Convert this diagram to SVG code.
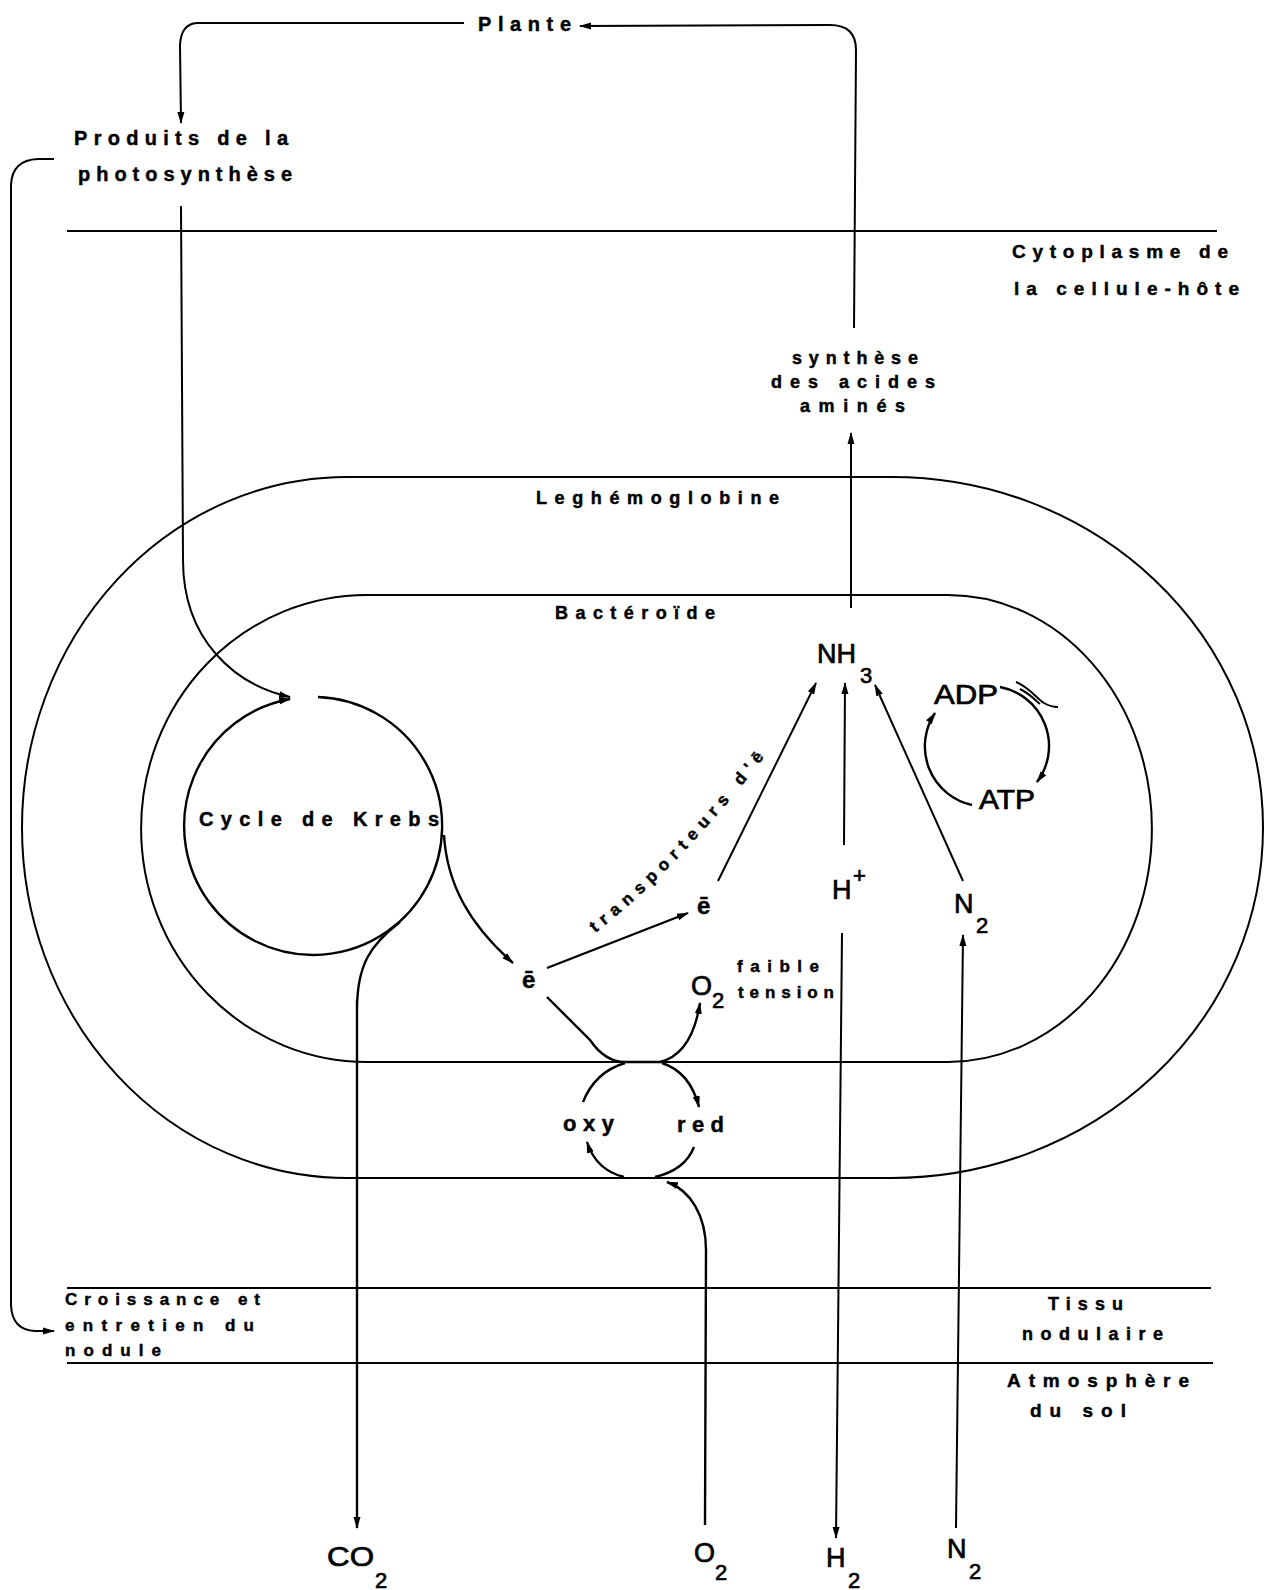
<svg xmlns="http://www.w3.org/2000/svg" width="1269" height="1590" viewBox="0 0 1269 1590">
<defs>
<style>
text{font-family:"Liberation Sans",Arial,sans-serif;fill:#000}
.b{font-weight:bold;stroke:#000;stroke-width:0.45}
.ln{fill:none;stroke:#000;stroke-width:2}
.th{fill:none;stroke:#000;stroke-width:2.4}
.ar{marker-end:url(#ah)}
.big{font-size:27px;stroke:#000;stroke-width:0.7}
.sub{font-size:22px;stroke:#000;stroke-width:0.7}
</style>
<marker id="ah" viewBox="0 0 12 8" refX="11" refY="4" markerWidth="12" markerHeight="8" markerUnits="userSpaceOnUse" orient="auto">
<path d="M0,0.5 L12,4 L0,7.5 Z" fill="#000"/>
</marker>
</defs>
<rect width="1269" height="1590" fill="#fff"/>

<g id="zones">
<line class="ln" x1="67" y1="231" x2="1217" y2="231"/>
<line class="ln" x1="67" y1="1288" x2="1211" y2="1288"/>
<line class="ln" x1="67" y1="1363" x2="1213" y2="1363"/>
</g>

<g id="leghemoglobine">
<path class="ln" d="M347,477 L892,477 A371,350.5 0 0 1 892,1178 L347,1178 A325,350.5 0 0 1 347,477 Z"/>
<text class="b" x="536" y="504" font-size="18" textLength="243" lengthAdjust="spacing">Leghémoglobine</text>
</g>

<g id="bacteroide">
<path class="ln" d="M367,595 L948,595 A204,233.5 0 0 1 948,1062 L367,1062 A226,233.5 0 0 1 367,595 Z"/>
<text class="b" x="555" y="619" font-size="18" textLength="160" lengthAdjust="spacing">Bactéroïde</text>
</g>

<g id="krebs">
<path class="th ar" d="M318,697 A129,129 0 1 1 290,699"/>
<text class="b" x="199" y="826" font-size="20" textLength="240" lengthAdjust="spacing">Cycle de Krebs</text>
</g>

<g id="plante"><text class="b" x="478" y="31" font-size="20" textLength="93" lengthAdjust="spacing">Plante</text></g>

<g id="produits">
<text class="b" x="74" y="145" font-size="20" textLength="214" lengthAdjust="spacing">Produits de la</text>
<text class="b" x="78" y="181" font-size="20" textLength="214" lengthAdjust="spacing">photosynthèse</text>
</g>

<g id="cytoplasme">
<text class="b" x="1012" y="258" font-size="19" textLength="216" lengthAdjust="spacing">Cytoplasme de</text>
<text class="b" x="1014" y="295" font-size="19" textLength="225" lengthAdjust="spacing">la cellule-hôte</text>
</g>

<g id="synthese">
<text class="b" x="792" y="364" font-size="18" textLength="126" lengthAdjust="spacing">synthèse</text>
<text class="b" x="771" y="388" font-size="18" textLength="164" lengthAdjust="spacing">des acides</text>
<text class="b" x="800" y="412" font-size="18" textLength="105" lengthAdjust="spacing">aminés</text>
</g>

<g id="nh3"><text class="big" x="817" y="663">NH<tspan class="sub" x="860" y="683">3</tspan></text></g>
<g id="adp"><text class="big" x="934" y="704" textLength="64" lengthAdjust="spacingAndGlyphs">ADP</text></g>
<g id="atp"><text class="big" x="979" y="809" textLength="56" lengthAdjust="spacingAndGlyphs">ATP</text></g>
<g id="hplus"><text class="big" x="832" y="899">H<tspan class="sub" x="853" y="883">+</tspan></text></g>
<g id="n2"><text class="big" x="954" y="913">N<tspan class="sub" x="976" y="933">2</tspan></text></g>
<g id="e1"><text class="b" x="522" y="988" font-size="24">ē</text></g>
<g id="e2"><text class="b" x="697" y="914" font-size="24">ē</text></g>
<g id="transporteurs">
<path id="tp" d="M595,933 Q682,866 776,742" fill="none"/>
<text class="b" font-size="17"><textPath href="#tp" textLength="245" lengthAdjust="spacing">transporteurs d'ē</textPath></text>
</g>
<g id="o2faible">
<text class="big" x="691" y="995">O<tspan class="sub" x="712" y="1008">2</tspan></text>
<text class="b" x="737" y="972" font-size="17" textLength="82" lengthAdjust="spacing">faible</text>
<text class="b" x="738" y="998" font-size="17" textLength="96" lengthAdjust="spacing">tension</text>
</g>
<g id="oxy"><text class="b" x="563" y="1131" font-size="22" textLength="51" lengthAdjust="spacing">oxy</text></g>
<g id="red"><text class="b" x="677" y="1132" font-size="22" textLength="47" lengthAdjust="spacing">red</text></g>

<g id="croissance">
<text class="b" x="65" y="1305" font-size="17" textLength="195" lengthAdjust="spacing">Croissance et</text>
<text class="b" x="65" y="1331" font-size="17" textLength="189" lengthAdjust="spacing">entretien du</text>
<text class="b" x="65" y="1356" font-size="17" textLength="96" lengthAdjust="spacing">nodule</text>
</g>
<g id="tissu">
<text class="b" x="1048" y="1310" font-size="18" textLength="75" lengthAdjust="spacing">Tissu</text>
<text class="b" x="1022" y="1340" font-size="18" textLength="141" lengthAdjust="spacing">nodulaire</text>
</g>
<g id="atmosphere">
<text class="b" x="1007" y="1387" font-size="19" textLength="182" lengthAdjust="spacing">Atmosphère</text>
<text class="b" x="1030" y="1417" font-size="19" textLength="96" lengthAdjust="spacing">du sol</text>
</g>

<g id="co2"><text class="big" x="327" y="1566" textLength="47" lengthAdjust="spacingAndGlyphs">CO</text><text class="sub" x="375" y="1588">2</text></g>
<g id="o2"><text class="big" x="694" y="1562">O<tspan class="sub" x="715" y="1580">2</tspan></text></g>
<g id="h2"><text class="big" x="826" y="1567">H<tspan class="sub" x="848" y="1588">2</tspan></text></g>
<g id="n2b"><text class="big" x="947" y="1558">N<tspan class="sub" x="969" y="1579">2</tspan></text></g>

<g id="connectors">
<path class="ln ar" d="M464,23 L197,23 Q181,24 180,45 L181,123"/>
<path class="ln ar" d="M854,328 L856,50 Q856,25 830,25 L580,26"/>
<path class="ln ar" d="M181,206 L183,560 C183,640 235,685 290,697"/>
<path class="ln ar" d="M54,159 L38,159 Q12,160 11,185 L11,1305 Q12,1330 35,1331 L54,1331"/>
<path class="ln ar" d="M851,608 L851,433"/>
<path class="th ar" d="M444,835 C447,885 470,925 513,963"/>
<path class="th ar" d="M357,1010 C357,965 370,945 400,922 M357,1000 L357,1528"/>
<path class="th ar" d="M547,968 L688,913"/>
<path class="ln ar" d="M718,881 L816,683"/>
<path class="ln ar" d="M844,845 L845,683"/>
<path class="ln ar" d="M963,881 L875,685"/>
<path class="ln ar" d="M842,933 L836,1538"/>
<path class="ln ar" d="M956,1528 L963,935"/>
<path class="th" d="M547,997 L590,1040 Q605,1062 625,1062 L662,1062"/>
<path class="th ar" d="M660,1062 Q692,1054 700,1003"/>
<path class="th ar" d="M662,1063 Q690,1072 699,1107"/>
<path class="th" d="M625,1063 Q595,1072 583,1102"/>
<path class="th" d="M655,1177 Q685,1170 694,1147"/>
<path class="th ar" d="M624,1177 Q596,1170 587,1142"/>
<path class="th ar" d="M705,1525 L706,1250 C706,1215 690,1190 667,1182"/>
<path class="th ar" d="M1000,687 A60,60 0 0 1 1037,782"/>
<path class="th ar" d="M972,805 A60,60 0 0 1 935,713"/>
<path class="ln" d="M1016,682 C1030,688 1036,698 1044,703 C1049,706 1054,707 1058,707" stroke-width="1.5"/>
<path class="ln" d="M1020,689 C1030,694 1035,700 1040,704" stroke-width="1.5"/>
</g>
</svg>
